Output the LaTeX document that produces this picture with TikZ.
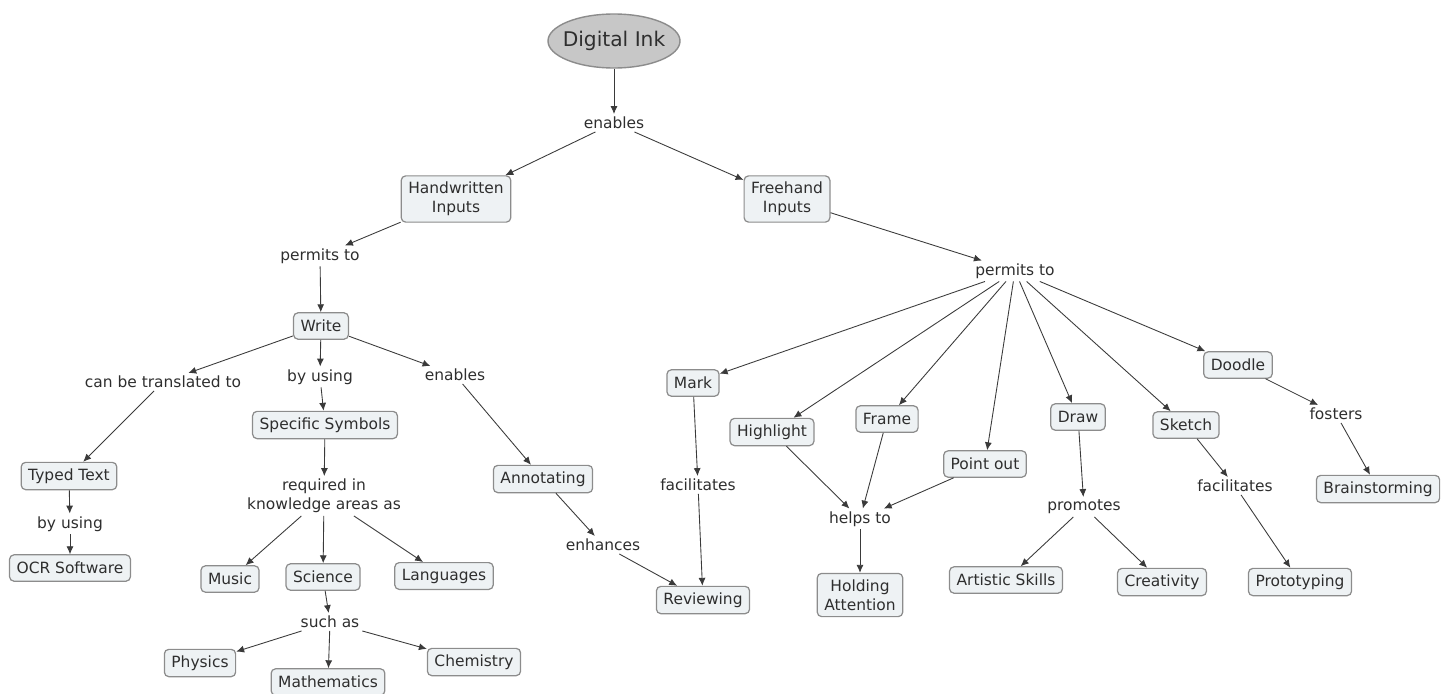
\documentclass[tikz,border=0pt]{standalone}
\usepackage{fontspec}
\setmainfont{DejaVu Sans}
\usetikzlibrary{shapes.geometric,arrows.meta}
\definecolor{conceptfill}{HTML}{EEF2F4}
\definecolor{conceptline}{HTML}{8C8C8C}
\definecolor{linkline}{HTML}{3A3A3A}
\definecolor{inktext}{HTML}{2E2E2E}
\begin{document}
\begin{tikzpicture}[x=0.02cm,y=-0.02cm,
    every node/.style={text=inktext, font=\fontsize{8.8}{10.8}\selectfont},
    concept/.style={draw=conceptline, fill=conceptfill, rounded corners=2.5pt, line width=0.7pt, inner xsep=4pt, inner ysep=3.5pt, minimum height=15pt, align=center},
    phrase/.style={inner sep=1.5pt, align=center},
    every edge/.style={draw=linkline, line width=0.5pt, -{Latex[length=4.5pt,width=4pt]}}]
    \useasboundingbox (0,0) rectangle (1453,693);

    % root
    \node [ellipse, draw=conceptline, fill=black!22, line width=0.8pt, inner xsep=-3pt, inner ysep=0pt, minimum width=132*0.02cm, minimum height=54*0.02cm, font=\fontsize{11.5}{13}\selectfont] (ink) at (614,41) {Digital Ink};
    \node [phrase] (enables) at (614,123) {enables};
    \node [concept] (hand) at (456,199) {Handwritten\\Inputs};
    \node [concept] (free) at (787,199) {Freehand\\Inputs};

    % handwritten branch
    \node [phrase] (permitsL) at (320,256) {permits to};
    \node [concept] (write) at (321,326) {Write};
    \node [phrase] (translated) at (163,382) {can be translated to};
    \node [phrase] (byusing) at (320,377) {by using};
    \node [phrase] (enablesW) at (455,375) {enables};
    \node [concept] (symbols) at (325,425) {Specific Symbols};
    \node [concept] (typed) at (69,476) {Typed Text};
    \node [phrase] (byusingT) at (70,524) {by using};
    \node [concept] (ocr) at (70,568) {OCR Software};
    \node [phrase] (required) at (324,496) {required in\\knowledge areas as};
    \node [concept] (music) at (230,579) {Music};
    \node [concept] (science) at (323,577) {Science};
    \node [concept] (lang) at (444,576) {Languages};
    \node [phrase] (suchas) at (330,622) {such as};
    \node [concept] (physics) at (200,663) {Physics};
    \node [concept] (maths) at (328,682) {Mathematics};
    \node [concept] (chem) at (474,662) {Chemistry};
    \node [concept] (annot) at (543,479) {Annotating};
    \node [phrase] (enhances) at (603,545) {enhances};
    \node [concept] (review) at (703,600) {Reviewing};

    % freehand branch
    \node [phrase] (permitsR) at (1015,271) {permits to};
    \node [concept] (mark) at (693,383) {Mark};
    \node [phrase] (facilM) at (698,485) {facilitates};
    \node [concept] (highlight) at (772,432) {Highlight};
    \node [concept] (frame) at (887,419) {Frame};
    \node [concept] (point) at (985,464) {Point out};
    \node [phrase] (helps) at (860,519) {helps to};
    \node [concept] (holding) at (860,595) {Holding\\Attention};
    \node [concept] (draw) at (1078,417) {Draw};
    \node [phrase] (promotes) at (1084,507) {promotes};
    \node [concept] (artistic) at (1006,580) {Artistic Skills};
    \node [concept] (creat) at (1162,582) {Creativity};
    \node [concept] (sketch) at (1186,425) {Sketch};
    \node [phrase] (facilS) at (1235,486) {facilitates};
    \node [concept] (proto) at (1300,582) {Prototyping};
    \node [concept] (doodle) at (1238,365) {Doodle};
    \node [phrase] (fosters) at (1336,414) {fosters};
    \node [concept] (brain) at (1378,489) {Brainstorming};

    \path (ink) edge (enables);
    \path (enables) edge (hand);
    \path (enables) edge (free);

    \path (hand) edge (permitsL);
    \path (permitsL) edge (write);
    \path (write) edge (translated);
    \path (write) edge (byusing);
    \path (write) edge (enablesW);
    \path (translated) edge (typed);
    \path (typed) edge (byusingT);
    \path (byusingT) edge (ocr);
    \path (byusing) edge (symbols);
    \path (symbols) edge (required);
    \path (required) edge (music);
    \path (required) edge (science);
    \path (required) edge (lang);
    \path (science) edge (suchas);
    \path (suchas) edge (physics);
    \path (suchas) edge (maths);
    \path (suchas) edge (chem);
    \path (enablesW) edge (annot);
    \path (annot) edge (enhances);
    \path (enhances) edge (review);

    \path (free) edge (permitsR);
    \path (permitsR) edge (mark);
    \path (permitsR) edge (highlight);
    \path (permitsR) edge (frame);
    \path (permitsR) edge (point);
    \path (permitsR) edge (draw);
    \path (permitsR) edge (sketch);
    \path (permitsR) edge (doodle);
    \path (mark) edge (facilM);
    \path (facilM) edge (review);
    \path (highlight) edge (helps);
    \path (frame) edge (helps);
    \path (point) edge (helps);
    \path (helps) edge (holding);
    \path (draw) edge (promotes);
    \path (promotes) edge (artistic);
    \path (promotes) edge (creat);
    \path (sketch) edge (facilS);
    \path (facilS) edge (proto);
    \path (doodle) edge (fosters);
    \path (fosters) edge (brain);
\end{tikzpicture}
\end{document}
